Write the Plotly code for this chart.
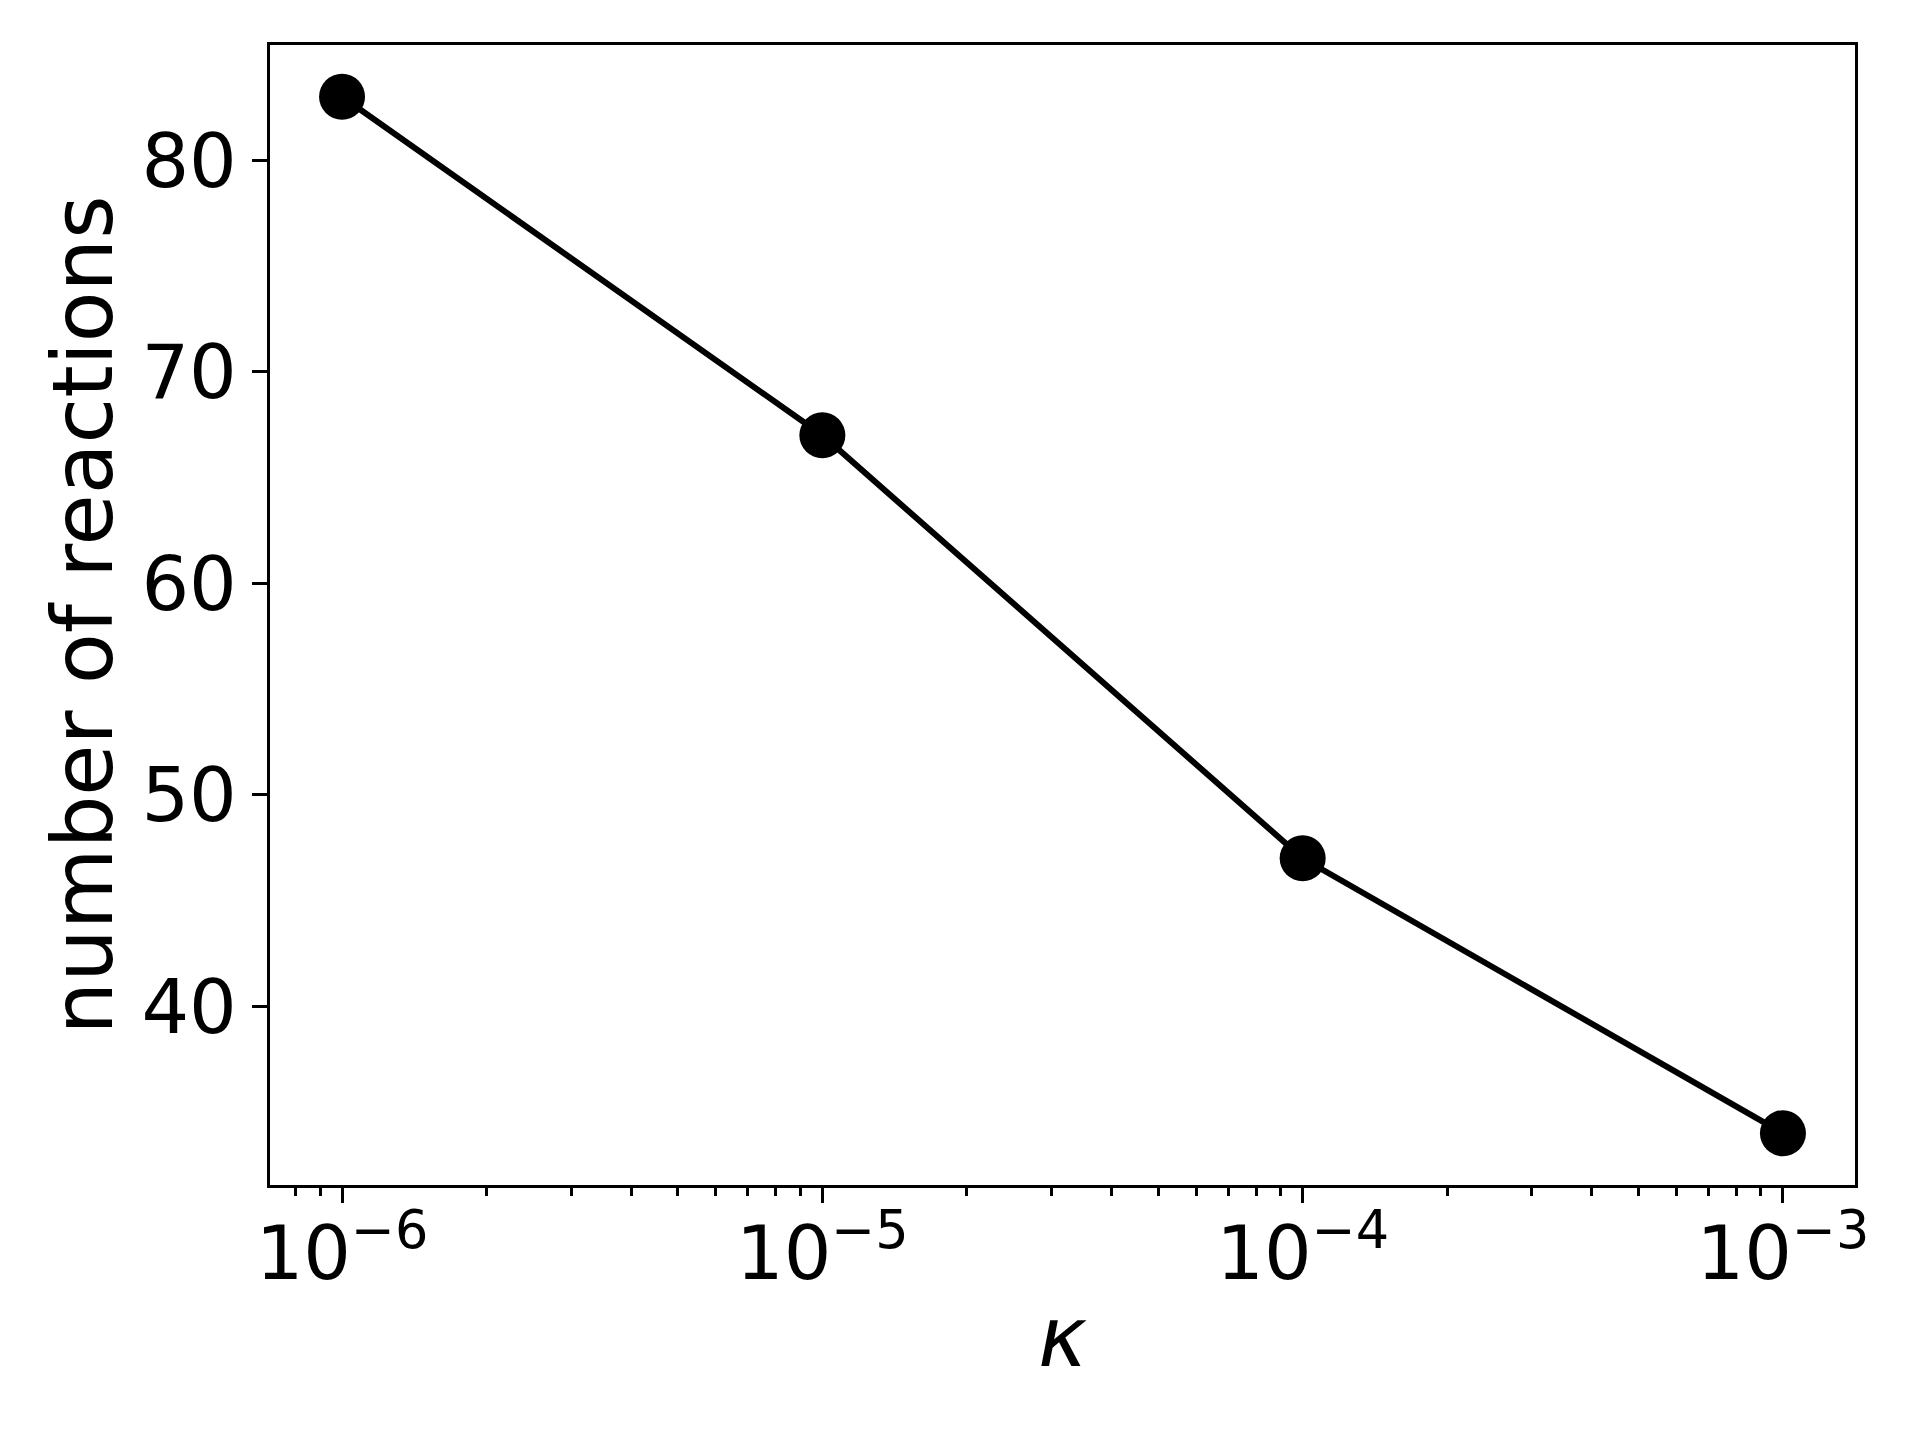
import plotly.graph_objects as go

kappa = [1e-6, 1e-5, 1e-4, 1e-3]
n_reactions = [83, 67, 47, 34]

x_tick_vals = [1e-6, 1e-5, 1e-4, 1e-3]
x_tick_text = ["10<sup>−6</sup>", "10<sup>−5</sup>", "10<sup>−4</sup>", "10<sup>−3</sup>"]
y_tick_vals = [40, 50, 60, 70, 80]

minor_vals = []
for d in [1e-7, 1e-6, 1e-5, 1e-4, 1e-3]:
    for m in range(2, 10):
        minor_vals.append(d * m)

FONT = "DejaVu Sans"

fig = go.Figure()
fig.add_trace(go.Scatter(
    x=kappa, y=n_reactions, mode="lines+markers",
    line=dict(color="black", width=6),
    marker=dict(color="black", size=46, symbol="circle"),
    showlegend=False,
))

fig.update_layout(
    width=1920, height=1440,
    margin=dict(l=262, r=73, t=37, b=263, autoexpand=False),
    paper_bgcolor="white", plot_bgcolor="white",
    font=dict(family=FONT, color="black"),
    xaxis=dict(
        type="log", range=[-6.15, -2.85],
        tickvals=x_tick_vals, ticktext=x_tick_text,
        ticks="outside", ticklen=15, tickwidth=3.3, tickcolor="black",
        tickfont=dict(size=75, family=FONT, color="black"),
        ticklabelstandoff=-14,
        showgrid=False, zeroline=False,
        showline=True, linecolor="black", linewidth=3.3, mirror=True,
        minor=dict(tickvals=minor_vals, ticks="outside", ticklen=8.3,
                   tickwidth=2.5, tickcolor="black", showgrid=False),
        title=dict(text="<i>κ</i>", font=dict(size=83, family=FONT, color="black"),
                   standoff=12),
    ),
    yaxis=dict(
        range=[31.55, 85.45],
        tickvals=y_tick_vals,
        ticks="outside", ticklen=15, tickwidth=3.3, tickcolor="black",
        tickfont=dict(size=75, family=FONT, color="black"),
        showgrid=False, zeroline=False,
        showline=True, linecolor="black", linewidth=3.3, mirror=True,
        title=dict(text="number of reactions", font=dict(size=83, family=FONT, color="black"),
                   standoff=2),
    ),
)

fig.write_html("out.html")
